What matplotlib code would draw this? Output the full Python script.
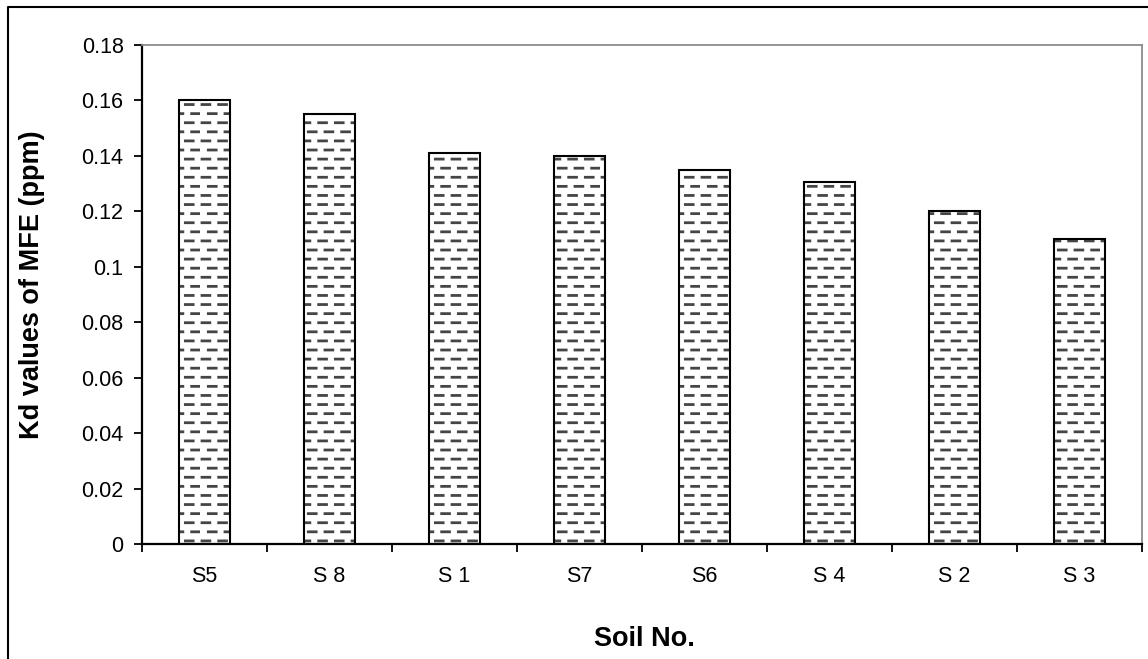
import numpy as np
import matplotlib
matplotlib.use('Agg')
import matplotlib.pyplot as plt
import matplotlib.hatch as mhatch
from matplotlib.path import Path
from matplotlib.lines import Line2D

soils = ['S5', 'S 8', 'S 1', 'S7', 'S6', 'S 4', 'S 2', 'S 3']
kd = [0.160, 0.155, 0.141, 0.140, 0.135, 0.1305, 0.120, 0.110]
yticks = [0, 0.02, 0.04, 0.06, 0.08, 0.1, 0.12, 0.14, 0.16, 0.18]
ytick_labels = ['0', '0.02', '0.04', '0.06', '0.08', '0.1', '0.12', '0.14', '0.16', '0.18']


# short staggered dashes instead of the plain horizontal-line hatch
class DashHatch(mhatch.HatchPatternBase):
    rows, cols, frac = 11, 6, 0.47

    def __init__(self, hatch, density):
        self.num_vertices = self.rows * self.cols * 2 if '-' in hatch else 0

    def set_vertices_and_codes(self, vertices, codes):
        k = 0
        for r in range(self.rows):
            y = (r + 0.5) / self.rows
            off = 0.5 / self.cols if r % 2 else 0.02
            for c in range(self.cols):
                x0 = c / self.cols + off
                vertices[k] = (x0, y)
                vertices[k + 1] = (min(x0 + self.frac / self.cols, 0.999), y)
                codes[k] = Path.MOVETO
                codes[k + 1] = Path.LINETO
                k += 2


mhatch._hatch_types[:] = [DashHatch] + [h for h in mhatch._hatch_types
                                        if h is not mhatch.HorizontalHatch]

plt.rcParams['font.family'] = ['Liberation Sans', 'DejaVu Sans']
plt.rcParams['hatch.linewidth'] = 2.0

fig = plt.figure(figsize=(11.48, 6.59), dpi=100)
ax = fig.add_axes([0.1234, 0.1745, 0.8714, 0.7572])

x = np.arange(len(soils))
ax.bar(x, kd, 0.41, color='white', edgecolor='#454545', linewidth=0, hatch='-', zorder=2)
ax.bar(x, kd, 0.41, fill=False, edgecolor='black', linewidth=1.5, zorder=3)

ax.set_xlim(-0.5, len(soils) - 0.5)
ax.set_ylim(0, 0.18)
ax.set_yticks(yticks)
ax.set_yticklabels(ytick_labels, fontsize=15.5)
ax.set_xticks(np.arange(len(soils) + 1) - 0.5)
ax.set_xticklabels([])
ax.set_xticks(x, soils, minor=True)
ax.tick_params(axis='x', which='major', direction='out', length=6, width=1.3)
ax.tick_params(axis='x', which='minor', length=0, pad=16, labelsize=15.5)
ax.tick_params(axis='y', direction='out', length=6, width=1.3, pad=7)

for s in ('left', 'bottom'):
    ax.spines[s].set_color('black')
    ax.spines[s].set_linewidth(1.6)
for s in ('top', 'right'):
    ax.spines[s].set_color('#8c8c8c')
    ax.spines[s].set_linewidth(1.3)

fig.text(32 / 1148, 1 - 285 / 659, 'Kd values of MFE (ppm)', fontsize=19.5, fontweight='bold',
         rotation=90, ha='center', va='center')
fig.text(644 / 1148, 1 - 639 / 659, 'Soil No.', fontsize=19.5, fontweight='bold',
         ha='center', va='center')

# outer frame (only the left and top edges fall inside the picture)
fig.add_artist(Line2D([8 / 1148, 8 / 1148, 1.0], [0.0, 1 - 7 / 659, 1 - 7 / 659],
                      transform=fig.transFigure, color='black', linewidth=1.5))

plt.savefig('out.png', dpi=100)
